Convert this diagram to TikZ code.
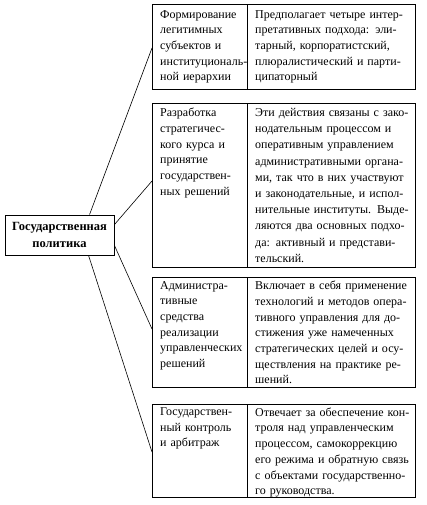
\documentclass[tikz,border=0pt]{standalone}
\usepackage{fontspec}
\setmainfont{Liberation Serif}
\usetikzlibrary{calc}
\newcommand\jr[1]{\makebox[154pt][s]{#1}}
\tikzset{
  cell/.style={draw=black, line width=0.9pt, anchor=north west, inner sep=0pt},
  txt/.style={anchor=north west, inner sep=0pt, align=left, font=\fontsize{12}{15.7}\selectfont},
  ltxt/.style={txt, text width=92pt},
  rtxt/.style={txt, text width=154pt},
  conn/.style={draw=black, line width=0.6pt},
  centre/.style={draw=black, line width=0.9pt, inner sep=0pt, align=center, minimum width=109pt, minimum height=40pt, font=\fontsize{12.5}{17}\selectfont\bfseries}
}
\begin{document}
\begin{tikzpicture}[x=1pt, y=-1pt]
\useasboundingbox[fill=white] (0,0) rectangle (426,505);

% central node
\node[centre] (gp) at (59.5,235) {Государственная\\политика};

% row cells
\node[cell, minimum width=95pt, minimum height=85pt] (l1) at (152,4) {};
\node[cell, minimum width=168pt, minimum height=85pt] (r1) at (247,4) {};
\node[cell, minimum width=95pt, minimum height=164pt] (l2) at (152,103) {};
\node[cell, minimum width=168pt, minimum height=164pt] (r2) at (247,103) {};
\node[cell, minimum width=95pt, minimum height=110pt] (l3) at (152,277) {};
\node[cell, minimum width=168pt, minimum height=110pt] (r3) at (247,277) {};
\node[cell, minimum width=95pt, minimum height=93pt] (l4) at (152,404) {};
\node[cell, minimum width=168pt, minimum height=93pt] (r4) at (247,404) {};

% texts
\node[ltxt] (lt1) at ($(l1.north west)+(8,6)$) {Формирование\\легитимных\\субъектов и\\институциональ-\\ной иерархии};
\node[rtxt] (rt1) at ($(r1.north west)+(8,6)$) {\jr{Предполагает четыре интер-}\\\jr{претативных подхода: эли-}\\\jr{тарный, корпоратистский,}\\\jr{плюралистический и парти-}\\ципаторный};

\node[ltxt] (lt2) at ($(l2.north west)+(8,5)$) {Разработка\\стратегичес-\\кого курса и\\принятие\\государствен-\\ных решений};
\node[rtxt, font=\fontsize{12}{16.2}\selectfont] (rt2) at ($(r2.north west)+(8,5)$) {\jr{Эти действия связаны с зако-}\\\jr{нодательным процессом и}\\\jr{оперативным управлением}\\\jr{административными органа-}\\\jr{ми, так что в них участвуют}\\\jr{и законодательные, и испол-}\\\jr{нительные институты. Выде-}\\\jr{ляются два основных подхо-}\\\jr{да: активный и представи-}\\тельский.};

\node[ltxt] (lt3) at ($(l3.north west)+(8,4)$) {Администра-\\тивные\\средства\\реализации\\управленческих\\решений};
\node[rtxt] (rt3) at ($(r3.north west)+(8,4)$) {\jr{Включает в себя применение}\\\jr{технологий и методов опера-}\\\jr{тивного управления для до-}\\\jr{стижения уже намеченных}\\\jr{стратегических целей и осу-}\\\jr{ществления на практике ре-}\\шений.};

\node[ltxt] (lt4) at ($(l4.north west)+(8,3.5)$) {Государствен-\\ный контроль\\и арбитраж};
\node[rtxt] (rt4) at ($(r4.north west)+(8,3.5)$) {\jr{Отвечает за обеспечение кон-}\\\jr{троля над управленческим}\\\jr{процессом, самокоррекцию}\\\jr{его режима и обратную связь}\\\jr{с объектами государственно-}\\го руководства.};

% connectors
\draw[conn] ($(gp.north west)+(85,0)$) -- ($(l1.north west)+(0,44)$);
\draw[conn] ($(gp.north east)+(0,10)$) -- ($(l2.north west)+(0,78)$);
\draw[conn] ($(gp.south east)+(0,-10)$) -- ($(l3.north west)+(0,52)$);
\draw[conn] ($(gp.south west)+(84,0)$) -- ($(l4.north west)+(0,48)$);
\end{tikzpicture}
\end{document}
